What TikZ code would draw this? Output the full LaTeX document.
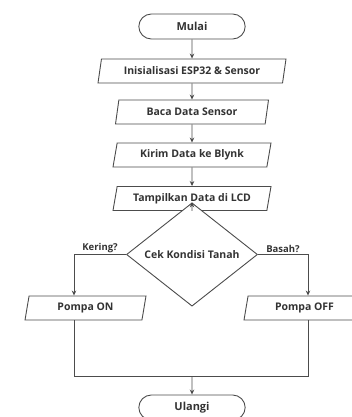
\documentclass[tikz,border=0pt]{standalone}
\usepackage{fontspec}
\setmainfont{Open Sans}
\usetikzlibrary{shapes.geometric, shapes.misc, arrows.meta, positioning}

\begin{document}
\begin{tikzpicture} [x=1pt, y=-1pt, on grid,
every node/.style={font=\bfseries\fontsize{10.5}{12}\selectfont, text=black!80},
term/.style={draw=black!70, line width=0.9pt, fill=white, rounded rectangle, minimum width=113pt, minimum height=25pt, font=\bfseries\fontsize{11}{13}\selectfont},
io/.style={draw=black!70, line width=0.9pt, fill=white, trapezium, trapezium left angle=74, trapezium right angle=106, trapezium stretches body, minimum height=24pt, inner sep=2pt},
cond/.style={draw=black!70, line width=0.9pt, fill=white, diamond, minimum width=131pt, minimum height=55pt, inner sep=0pt},
flow/.style={draw=black!70, line width=0.9pt, -{Stealth[length=5pt, width=4.5pt]}},
wire/.style={draw=black!70, line width=0.9pt},
tag/.style={font=\bfseries\fontsize{9.5}{11}\selectfont, inner sep=1.5pt}]

\useasboundingbox (0,0) rectangle (351,417);

\node (mulai) [term] at (192,26.5) {Mulai};
\node (init) [io, minimum width=188pt, below=44.5pt of mulai] {Inisialisasi ESP32 \& Sensor};
\node (baca) [io, minimum width=153pt, below=41pt of init] {Baca Data Sensor};
\node (kirim) [io, minimum width=158pt, below=43pt of baca] {Kirim Data ke Blynk};
\node (lcd) [io, minimum width=158pt, below=43.5pt of kirim] {Tampilkan Data di LCD};
\node (cek) [cond, below=56pt of lcd] {Cek Kondisi Tanah};
\node (on) [io, minimum width=121pt] at (85.5,308) {Pompa ON};
\node (off) [io, minimum width=121pt] at (304.5,308) {Pompa OFF};
\node (ulangi) [term] at (192,407.5) {Ulangi};

\node (kiri) [coordinate, left=118pt of cek] {};
\node (kanan) [coordinate, right=116pt of cek] {};
\node (gabung) [coordinate, below=121.5pt of cek] {};

\path [flow]
    (mulai) edge (init)
    (init) edge (baca)
    (baca) edge (kirim)
    (kirim) edge (lcd)
    (lcd) edge (cek);

\draw [flow] (cek.west) -- node [tag, above] {Kering?} (kiri) -- (kiri |- on.north);
\draw [flow] (cek.east) -- node [tag, above] {Basah?} (kanan) -- (kanan |- off.north);
\draw [wire] (on.south -| kiri) -- (kiri |- gabung) -- (kanan |- gabung) -- (off.south -| kanan);
\draw [flow] (gabung) -- (ulangi);
\end{tikzpicture}
\end{document}
